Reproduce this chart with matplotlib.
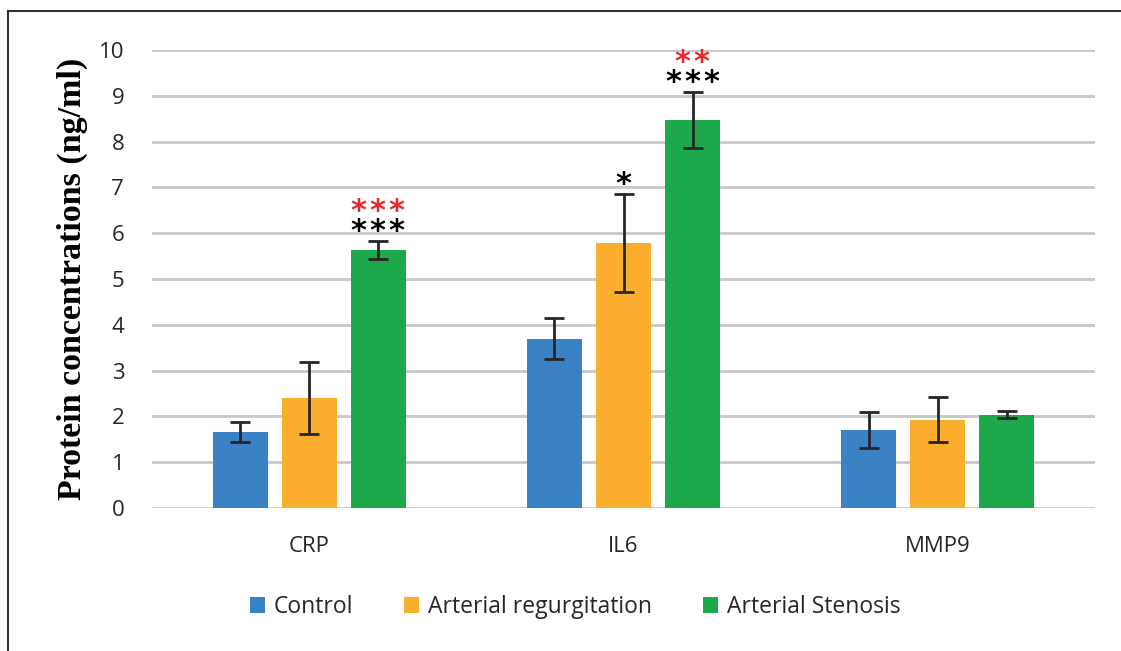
import numpy as np
import matplotlib
matplotlib.use("Agg")
import matplotlib.pyplot as plt
from matplotlib.lines import Line2D

# data
categories = ["CRP", "IL6", "MMP9"]
series_names = ["Control", "Arterial regurgitation", "Arterial Stenosis"]
control = [1.66, 3.70, 1.71]
regurgitation = [2.40, 5.79, 1.93]
stenosis = [5.64, 8.48, 2.04]
control_err = [0.22, 0.45, 0.39]
regurgitation_err = [0.79, 1.07, 0.50]
stenosis_err = [0.20, 0.61, 0.08]
# significance marks: (category, series, black text, red text)
marks = [
    (0, 2, "***", "***"),
    (1, 1, "*", ""),
    (1, 2, "***", "**"),
]
y_ticks = list(range(0, 11))

colors = ["#3A82C4", "#FBAE2D", "#1DA84B"]
values = [control, regurgitation, stenosis]
errors = [control_err, regurgitation_err, stenosis_err]

fig = plt.figure(figsize=(11.21, 6.51), dpi=100)
ax = fig.add_axes([0.1356, 0.2197, 0.8412, 0.7035])

x = np.arange(len(categories))
width = 0.175
step = 0.22
for i, (vals, errs, name) in enumerate(zip(values, errors, series_names)):
    pos = x + (i - 1) * step
    ax.bar(pos, vals, width, color=colors[i], label=name, zorder=3)
    ax.errorbar(pos, vals, yerr=errs, fmt="none", ecolor="#262626",
                elinewidth=2, capsize=7, capthick=2, zorder=4)

hs = "\u200a"
for ci, si, black, red in marks:
    xp = ci + (si - 1) * step
    top = values[si][ci] + errors[si][ci]
    ax.text(xp, top - 0.12, hs.join(black), ha="center", va="bottom", fontsize=22,
            color="black", fontweight="bold", clip_on=False)
    if red:
        ax.text(xp, top + 0.32, hs.join(red), ha="center", va="bottom", fontsize=22,
                color="#E8292B", fontweight="bold", clip_on=False)

ax.set_xlim(-0.5, 2.5)
ax.set_ylim(0, 10)
ax.set_yticks(y_ticks)
ax.set_xticks(x)
ax.set_xticklabels(categories)
ax.tick_params(length=0, labelsize=16, colors="#262626")
ax.tick_params(axis="y", pad=20)
ax.tick_params(axis="x", pad=20)
for lab in ax.get_xticklabels() + ax.get_yticklabels():
    lab.set_family("Open Sans")
ax.grid(axis="y", color="#C8C8C8", linewidth=2, zorder=0)
for s in ax.spines.values():
    s.set_visible(False)

ax.set_ylabel("Protein concentrations (ng/ml)", fontsize=24.5, fontweight="bold",
              family="Liberation Serif", labelpad=8)

leg = fig.legend(loc="center", bbox_to_anchor=(0.513, 0.0676), ncol=3, frameon=False,
                 prop={"family": "Open Sans", "size": 16.5}, handlelength=0.66,
                 handleheight=0.66, handletextpad=0.4, columnspacing=2.2)
for t in leg.get_texts():
    t.set_color("#262626")

# border along top and left edges
fig.add_artist(Line2D([8 / 1121, 1.0], [1 - 11 / 651, 1 - 11 / 651],
                      color="#333333", linewidth=1.5, transform=fig.transFigure))
fig.add_artist(Line2D([8 / 1121, 8 / 1121], [0, 1 - 11 / 651],
                      color="#333333", linewidth=1.5, transform=fig.transFigure))

fig.savefig("out.png", dpi=100)
